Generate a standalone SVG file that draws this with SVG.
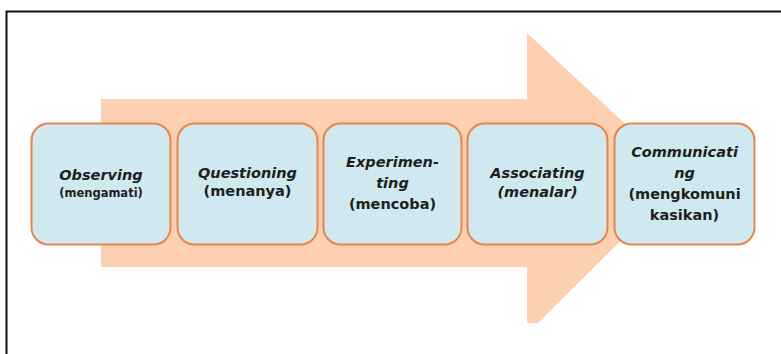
<svg xmlns="http://www.w3.org/2000/svg" width="781" height="354" viewBox="0 0 781 354">
<style>
.box{fill:#d0e9f1;stroke:#e8844c;stroke-width:2}
.t{font-family:"DejaVu Sans",sans-serif;font-weight:bold;font-size:14.5px;fill:#1e1e1e;text-anchor:middle}
.i{font-style:italic}
.s{font-size:11.5px}
</style>
<rect x="0" y="0" width="781" height="354" fill="#ffffff"/>
<path d="M6.5,354 V11.5 H781" fill="none" stroke="#111111" stroke-width="2"/>
<g id="arrow">
<polygon points="101,99 527,99 527,33 684,178 538,323 527,323 527,267 101,267" fill="#fdd0b2"/>
</g>
<g id="connectors"></g>
<g id="observing">
<rect class="box" x="31.5" y="123.5" width="139" height="121" rx="17"/>
<text class="t i" x="101" y="180">Observing</text>
<text class="t s" x="101" y="197">(mengamati)</text>
</g>
<g id="questioning">
<rect class="box" x="177.5" y="123.5" width="140" height="121" rx="17"/>
<text class="t i" x="247.5" y="178">Questioning</text>
<text class="t" x="247.5" y="196">(menanya)</text>
</g>
<g id="experimenting">
<rect class="box" x="323.5" y="123.5" width="138" height="121" rx="17"/>
<text class="t i" x="392.5" y="167">Experimen-</text>
<text class="t i" x="392.5" y="188">ting</text>
<text class="t" x="392.5" y="209">(mencoba)</text>
</g>
<g id="associating">
<rect class="box" x="467.5" y="123.5" width="140" height="121" rx="17"/>
<text class="t i" x="537.5" y="178">Associating</text>
<text class="t i" x="537.5" y="197">(menalar)</text>
</g>
<g id="communicating">
<rect class="box" x="614.5" y="123.5" width="140" height="121" rx="17"/>
<text class="t i" x="684.5" y="157">Communicati</text>
<text class="t i" x="684.5" y="178">ng</text>
<text class="t" x="684.5" y="199">(mengkomuni</text>
<text class="t" x="684.5" y="220">kasikan)</text>
</g>
</svg>
